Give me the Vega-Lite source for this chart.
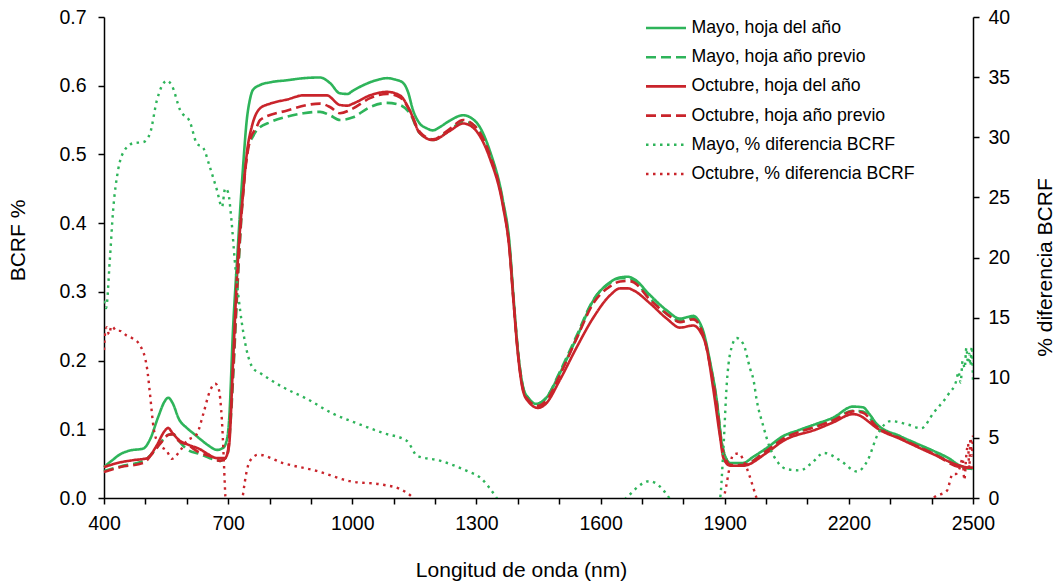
{
"$schema": "https://vega.github.io/schema/vega-lite/v6.json",
"width": 869, "height": 481,
"autosize": {"type": "none"},
"padding": {"left": 104, "top": 17, "right": 87, "bottom": 86},
"background": "white",
"config": {
 "view": {"stroke": null},
 "font": "Liberation Sans",
 "axis": {"grid": false, "domainColor": "#000", "domainWidth": 1.5, "tickColor": "#000", "tickWidth": 1.5, "tickSize": 6, "labelFont": "Liberation Sans", "labelFontSize": 19.5, "labelColor": "#000", "titleFont": "Liberation Sans", "titleFontSize": 21, "titleFontWeight": "normal", "titleColor": "#000", "labelOverlap": false, "labelFlush": false}
},
"datasets": {
"refl": [
{"s":"Mayo, hoja del año","x":400,"v":0.045},{"s":"Mayo, hoja del año","x":420,"v":0.055},{"s":"Mayo, hoja del año","x":440,"v":0.064},{"s":"Mayo, hoja del año","x":462,"v":0.069},{"s":"Mayo, hoja del año","x":495,"v":0.072},{"s":"Mayo, hoja del año","x":511,"v":0.085},{"s":"Mayo, hoja del año","x":531,"v":0.118},{"s":"Mayo, hoja del año","x":546,"v":0.140},{"s":"Mayo, hoja del año","x":555,"v":0.146},{"s":"Mayo, hoja del año","x":566,"v":0.138},{"s":"Mayo, hoja del año","x":581,"v":0.115},{"s":"Mayo, hoja del año","x":600,"v":0.102},{"s":"Mayo, hoja del año","x":616,"v":0.094},{"s":"Mayo, hoja del año","x":632,"v":0.086},{"s":"Mayo, hoja del año","x":651,"v":0.077},{"s":"Mayo, hoja del año","x":673,"v":0.070},{"s":"Mayo, hoja del año","x":688,"v":0.073},{"s":"Mayo, hoja del año","x":697,"v":0.085},{"s":"Mayo, hoja del año","x":702,"v":0.11},{"s":"Mayo, hoja del año","x":712,"v":0.248},{"s":"Mayo, hoja del año","x":722,"v":0.35},{"s":"Mayo, hoja del año","x":729,"v":0.419},{"s":"Mayo, hoja del año","x":737,"v":0.49},{"s":"Mayo, hoja del año","x":745,"v":0.55},{"s":"Mayo, hoja del año","x":752,"v":0.578},{"s":"Mayo, hoja del año","x":760,"v":0.594},{"s":"Mayo, hoja del año","x":777,"v":0.601},{"s":"Mayo, hoja del año","x":802,"v":0.605},{"s":"Mayo, hoja del año","x":843,"v":0.608},{"s":"Mayo, hoja del año","x":883,"v":0.611},{"s":"Mayo, hoja del año","x":922,"v":0.612},{"s":"Mayo, hoja del año","x":946,"v":0.604},{"s":"Mayo, hoja del año","x":970,"v":0.589},{"s":"Mayo, hoja del año","x":988,"v":0.588},{"s":"Mayo, hoja del año","x":1002,"v":0.593},{"s":"Mayo, hoja del año","x":1024,"v":0.600},{"s":"Mayo, hoja del año","x":1043,"v":0.605},{"s":"Mayo, hoja del año","x":1064,"v":0.609},{"s":"Mayo, hoja del año","x":1084,"v":0.611},{"s":"Mayo, hoja del año","x":1104,"v":0.609},{"s":"Mayo, hoja del año","x":1123,"v":0.604},{"s":"Mayo, hoja del año","x":1134,"v":0.592},{"s":"Mayo, hoja del año","x":1147,"v":0.564},{"s":"Mayo, hoja del año","x":1163,"v":0.545},{"s":"Mayo, hoja del año","x":1180,"v":0.538},{"s":"Mayo, hoja del año","x":1195,"v":0.535},{"s":"Mayo, hoja del año","x":1212,"v":0.54},{"s":"Mayo, hoja del año","x":1235,"v":0.549},{"s":"Mayo, hoja del año","x":1268,"v":0.557},{"s":"Mayo, hoja del año","x":1290,"v":0.552},{"s":"Mayo, hoja del año","x":1308,"v":0.54},{"s":"Mayo, hoja del año","x":1332,"v":0.506},{"s":"Mayo, hoja del año","x":1364,"v":0.433},{"s":"Mayo, hoja del año","x":1380,"v":0.37},{"s":"Mayo, hoja del año","x":1389,"v":0.297},{"s":"Mayo, hoja del año","x":1401,"v":0.21},{"s":"Mayo, hoja del año","x":1413,"v":0.161},{"s":"Mayo, hoja del año","x":1426,"v":0.145},{"s":"Mayo, hoja del año","x":1445,"v":0.137},{"s":"Mayo, hoja del año","x":1469,"v":0.146},{"s":"Mayo, hoja del año","x":1501,"v":0.181},{"s":"Mayo, hoja del año","x":1542,"v":0.233},{"s":"Mayo, hoja del año","x":1582,"v":0.287},{"s":"Mayo, hoja del año","x":1623,"v":0.314},{"s":"Mayo, hoja del año","x":1647,"v":0.321},{"s":"Mayo, hoja del año","x":1667,"v":0.322},{"s":"Mayo, hoja del año","x":1680,"v":0.319},{"s":"Mayo, hoja del año","x":1720,"v":0.295},{"s":"Mayo, hoja del año","x":1760,"v":0.273},{"s":"Mayo, hoja del año","x":1792,"v":0.261},{"s":"Mayo, hoja del año","x":1824,"v":0.265},{"s":"Mayo, hoja del año","x":1838,"v":0.257},{"s":"Mayo, hoja del año","x":1848,"v":0.243},{"s":"Mayo, hoja del año","x":1864,"v":0.2},{"s":"Mayo, hoja del año","x":1881,"v":0.141},{"s":"Mayo, hoja del año","x":1893,"v":0.079},{"s":"Mayo, hoja del año","x":1903,"v":0.058},{"s":"Mayo, hoja del año","x":1913,"v":0.051},{"s":"Mayo, hoja del año","x":1944,"v":0.051},{"s":"Mayo, hoja del año","x":1969,"v":0.06},{"s":"Mayo, hoja del año","x":2002,"v":0.073},{"s":"Mayo, hoja del año","x":2041,"v":0.09},{"s":"Mayo, hoja del año","x":2080,"v":0.099},{"s":"Mayo, hoja del año","x":2122,"v":0.108},{"s":"Mayo, hoja del año","x":2162,"v":0.117},{"s":"Mayo, hoja del año","x":2210,"v":0.133},{"s":"Mayo, hoja del año","x":2234,"v":0.132},{"s":"Mayo, hoja del año","x":2250,"v":0.122},{"s":"Mayo, hoja del año","x":2267,"v":0.108},{"s":"Mayo, hoja del año","x":2324,"v":0.09},{"s":"Mayo, hoja del año","x":2361,"v":0.08},{"s":"Mayo, hoja del año","x":2403,"v":0.069},{"s":"Mayo, hoja del año","x":2441,"v":0.058},{"s":"Mayo, hoja del año","x":2469,"v":0.047},{"s":"Mayo, hoja del año","x":2493,"v":0.043},{"s":"Mayo, hoja del año","x":2500,"v":0.043},
{"s":"Mayo, hoja año previo","x":400,"v":0.039},{"s":"Mayo, hoja año previo","x":440,"v":0.046},{"s":"Mayo, hoja año previo","x":495,"v":0.054},{"s":"Mayo, hoja año previo","x":521,"v":0.068},{"s":"Mayo, hoja año previo","x":536,"v":0.08},{"s":"Mayo, hoja año previo","x":556,"v":0.092},{"s":"Mayo, hoja año previo","x":567,"v":0.093},{"s":"Mayo, hoja año previo","x":581,"v":0.083},{"s":"Mayo, hoja año previo","x":600,"v":0.071},{"s":"Mayo, hoja año previo","x":631,"v":0.064},{"s":"Mayo, hoja año previo","x":656,"v":0.058},{"s":"Mayo, hoja año previo","x":681,"v":0.054},{"s":"Mayo, hoja año previo","x":697,"v":0.06},{"s":"Mayo, hoja año previo","x":707,"v":0.12},{"s":"Mayo, hoja año previo","x":712,"v":0.175},{"s":"Mayo, hoja año previo","x":722,"v":0.3},{"s":"Mayo, hoja año previo","x":736,"v":0.443},{"s":"Mayo, hoja año previo","x":748,"v":0.51},{"s":"Mayo, hoja año previo","x":759,"v":0.525},{"s":"Mayo, hoja año previo","x":769,"v":0.535},{"s":"Mayo, hoja año previo","x":802,"v":0.547},{"s":"Mayo, hoja año previo","x":843,"v":0.555},{"s":"Mayo, hoja año previo","x":882,"v":0.56},{"s":"Mayo, hoja año previo","x":922,"v":0.562},{"s":"Mayo, hoja año previo","x":946,"v":0.557},{"s":"Mayo, hoja año previo","x":970,"v":0.55},{"s":"Mayo, hoja año previo","x":1002,"v":0.554},{"s":"Mayo, hoja año previo","x":1043,"v":0.569},{"s":"Mayo, hoja año previo","x":1084,"v":0.575},{"s":"Mayo, hoja año previo","x":1115,"v":0.572},{"s":"Mayo, hoja año previo","x":1139,"v":0.56},{"s":"Mayo, hoja año previo","x":1163,"v":0.531},{"s":"Mayo, hoja año previo","x":1195,"v":0.521},{"s":"Mayo, hoja año previo","x":1235,"v":0.535},{"s":"Mayo, hoja año previo","x":1268,"v":0.548},{"s":"Mayo, hoja año previo","x":1295,"v":0.542},{"s":"Mayo, hoja año previo","x":1308,"v":0.533},{"s":"Mayo, hoja año previo","x":1332,"v":0.502},{"s":"Mayo, hoja año previo","x":1364,"v":0.43},{"s":"Mayo, hoja año previo","x":1380,"v":0.365},{"s":"Mayo, hoja año previo","x":1389,"v":0.295},{"s":"Mayo, hoja año previo","x":1401,"v":0.21},{"s":"Mayo, hoja año previo","x":1413,"v":0.16},{"s":"Mayo, hoja año previo","x":1426,"v":0.145},{"s":"Mayo, hoja año previo","x":1445,"v":0.137},{"s":"Mayo, hoja año previo","x":1469,"v":0.146},{"s":"Mayo, hoja año previo","x":1501,"v":0.183},{"s":"Mayo, hoja año previo","x":1542,"v":0.236},{"s":"Mayo, hoja año previo","x":1582,"v":0.288},{"s":"Mayo, hoja año previo","x":1623,"v":0.313},{"s":"Mayo, hoja año previo","x":1647,"v":0.32},{"s":"Mayo, hoja año previo","x":1667,"v":0.32},{"s":"Mayo, hoja año previo","x":1680,"v":0.316},{"s":"Mayo, hoja año previo","x":1720,"v":0.29},{"s":"Mayo, hoja año previo","x":1760,"v":0.268},{"s":"Mayo, hoja año previo","x":1792,"v":0.258},{"s":"Mayo, hoja año previo","x":1824,"v":0.262},{"s":"Mayo, hoja año previo","x":1848,"v":0.24},{"s":"Mayo, hoja año previo","x":1864,"v":0.198},{"s":"Mayo, hoja año previo","x":1881,"v":0.14},{"s":"Mayo, hoja año previo","x":1893,"v":0.08},{"s":"Mayo, hoja año previo","x":1903,"v":0.058},{"s":"Mayo, hoja año previo","x":1913,"v":0.05},{"s":"Mayo, hoja año previo","x":1944,"v":0.048},{"s":"Mayo, hoja año previo","x":2002,"v":0.07},{"s":"Mayo, hoja año previo","x":2041,"v":0.087},{"s":"Mayo, hoja año previo","x":2122,"v":0.105},{"s":"Mayo, hoja año previo","x":2162,"v":0.114},{"s":"Mayo, hoja año previo","x":2210,"v":0.127},{"s":"Mayo, hoja año previo","x":2234,"v":0.126},{"s":"Mayo, hoja año previo","x":2267,"v":0.104},{"s":"Mayo, hoja año previo","x":2324,"v":0.088},{"s":"Mayo, hoja año previo","x":2403,"v":0.066},{"s":"Mayo, hoja año previo","x":2469,"v":0.046},{"s":"Mayo, hoja año previo","x":2500,"v":0.042},
{"s":"Octubre, hoja del año","x":400,"v":0.045},{"s":"Octubre, hoja del año","x":440,"v":0.052},{"s":"Octubre, hoja del año","x":470,"v":0.055},{"s":"Octubre, hoja del año","x":504,"v":0.058},{"s":"Octubre, hoja del año","x":526,"v":0.075},{"s":"Octubre, hoja del año","x":546,"v":0.097},{"s":"Octubre, hoja del año","x":555,"v":0.102},{"s":"Octubre, hoja del año","x":566,"v":0.094},{"s":"Octubre, hoja del año","x":584,"v":0.083},{"s":"Octubre, hoja del año","x":606,"v":0.077},{"s":"Octubre, hoja del año","x":632,"v":0.071},{"s":"Octubre, hoja del año","x":651,"v":0.064},{"s":"Octubre, hoja del año","x":673,"v":0.058},{"s":"Octubre, hoja del año","x":692,"v":0.058},{"s":"Octubre, hoja del año","x":702,"v":0.075},{"s":"Octubre, hoja del año","x":712,"v":0.2},{"s":"Octubre, hoja del año","x":722,"v":0.33},{"s":"Octubre, hoja del año","x":736,"v":0.443},{"s":"Octubre, hoja del año","x":747,"v":0.51},{"s":"Octubre, hoja del año","x":757,"v":0.54},{"s":"Octubre, hoja del año","x":777,"v":0.567},{"s":"Octubre, hoja del año","x":802,"v":0.574},{"s":"Octubre, hoja del año","x":843,"v":0.58},{"s":"Octubre, hoja del año","x":882,"v":0.586},{"s":"Octubre, hoja del año","x":938,"v":0.586},{"s":"Octubre, hoja del año","x":970,"v":0.572},{"s":"Octubre, hoja del año","x":988,"v":0.571},{"s":"Octubre, hoja del año","x":1002,"v":0.574},{"s":"Octubre, hoja del año","x":1043,"v":0.586},{"s":"Octubre, hoja del año","x":1084,"v":0.591},{"s":"Octubre, hoja del año","x":1115,"v":0.586},{"s":"Octubre, hoja del año","x":1139,"v":0.564},{"s":"Octubre, hoja del año","x":1163,"v":0.531},{"s":"Octubre, hoja del año","x":1195,"v":0.521},{"s":"Octubre, hoja del año","x":1235,"v":0.534},{"s":"Octubre, hoja del año","x":1268,"v":0.545},{"s":"Octubre, hoja del año","x":1290,"v":0.54},{"s":"Octubre, hoja del año","x":1308,"v":0.527},{"s":"Octubre, hoja del año","x":1332,"v":0.495},{"s":"Octubre, hoja del año","x":1364,"v":0.425},{"s":"Octubre, hoja del año","x":1380,"v":0.36},{"s":"Octubre, hoja del año","x":1389,"v":0.29},{"s":"Octubre, hoja del año","x":1401,"v":0.205},{"s":"Octubre, hoja del año","x":1413,"v":0.155},{"s":"Octubre, hoja del año","x":1426,"v":0.14},{"s":"Octubre, hoja del año","x":1449,"v":0.131},{"s":"Octubre, hoja del año","x":1469,"v":0.138},{"s":"Octubre, hoja del año","x":1501,"v":0.171},{"s":"Octubre, hoja del año","x":1542,"v":0.219},{"s":"Octubre, hoja del año","x":1582,"v":0.262},{"s":"Octubre, hoja del año","x":1623,"v":0.295},{"s":"Octubre, hoja del año","x":1647,"v":0.305},{"s":"Octubre, hoja del año","x":1667,"v":0.305},{"s":"Octubre, hoja del año","x":1680,"v":0.302},{"s":"Octubre, hoja del año","x":1720,"v":0.283},{"s":"Octubre, hoja del año","x":1760,"v":0.261},{"s":"Octubre, hoja del año","x":1792,"v":0.248},{"s":"Octubre, hoja del año","x":1824,"v":0.251},{"s":"Octubre, hoja del año","x":1840,"v":0.243},{"s":"Octubre, hoja del año","x":1856,"v":0.219},{"s":"Octubre, hoja del año","x":1873,"v":0.156},{"s":"Octubre, hoja del año","x":1889,"v":0.088},{"s":"Octubre, hoja del año","x":1897,"v":0.058},{"s":"Octubre, hoja del año","x":1913,"v":0.047},{"s":"Octubre, hoja del año","x":1944,"v":0.047},{"s":"Octubre, hoja del año","x":2002,"v":0.066},{"s":"Octubre, hoja del año","x":2041,"v":0.083},{"s":"Octubre, hoja del año","x":2122,"v":0.1},{"s":"Octubre, hoja del año","x":2162,"v":0.11},{"s":"Octubre, hoja del año","x":2210,"v":0.122},{"s":"Octubre, hoja del año","x":2226,"v":0.12},{"s":"Octubre, hoja del año","x":2250,"v":0.11},{"s":"Octubre, hoja del año","x":2267,"v":0.102},{"s":"Octubre, hoja del año","x":2324,"v":0.086},{"s":"Octubre, hoja del año","x":2403,"v":0.064},{"s":"Octubre, hoja del año","x":2469,"v":0.047},{"s":"Octubre, hoja del año","x":2493,"v":0.044},{"s":"Octubre, hoja del año","x":2500,"v":0.044},
{"s":"Octubre, hoja año previo","x":400,"v":0.038},{"s":"Octubre, hoja año previo","x":440,"v":0.045},{"s":"Octubre, hoja año previo","x":495,"v":0.051},{"s":"Octubre, hoja año previo","x":521,"v":0.068},{"s":"Octubre, hoja año previo","x":536,"v":0.079},{"s":"Octubre, hoja año previo","x":556,"v":0.092},{"s":"Octubre, hoja año previo","x":567,"v":0.093},{"s":"Octubre, hoja año previo","x":581,"v":0.083},{"s":"Octubre, hoja año previo","x":600,"v":0.078},{"s":"Octubre, hoja año previo","x":631,"v":0.066},{"s":"Octubre, hoja año previo","x":656,"v":0.061},{"s":"Octubre, hoja año previo","x":681,"v":0.054},{"s":"Octubre, hoja año previo","x":697,"v":0.06},{"s":"Octubre, hoja año previo","x":707,"v":0.13},{"s":"Octubre, hoja año previo","x":712,"v":0.185},{"s":"Octubre, hoja año previo","x":722,"v":0.31},{"s":"Octubre, hoja año previo","x":736,"v":0.443},{"s":"Octubre, hoja año previo","x":753,"v":0.521},{"s":"Octubre, hoja año previo","x":769,"v":0.54},{"s":"Octubre, hoja año previo","x":777,"v":0.55},{"s":"Octubre, hoja año previo","x":843,"v":0.564},{"s":"Octubre, hoja año previo","x":922,"v":0.574},{"s":"Octubre, hoja año previo","x":946,"v":0.569},{"s":"Octubre, hoja año previo","x":970,"v":0.56},{"s":"Octubre, hoja año previo","x":1002,"v":0.567},{"s":"Octubre, hoja año previo","x":1043,"v":0.582},{"s":"Octubre, hoja año previo","x":1084,"v":0.588},{"s":"Octubre, hoja año previo","x":1115,"v":0.583},{"s":"Octubre, hoja año previo","x":1139,"v":0.564},{"s":"Octubre, hoja año previo","x":1163,"v":0.533},{"s":"Octubre, hoja año previo","x":1195,"v":0.522},{"s":"Octubre, hoja año previo","x":1235,"v":0.537},{"s":"Octubre, hoja año previo","x":1268,"v":0.55},{"s":"Octubre, hoja año previo","x":1295,"v":0.542},{"s":"Octubre, hoja año previo","x":1308,"v":0.532},{"s":"Octubre, hoja año previo","x":1332,"v":0.5},{"s":"Octubre, hoja año previo","x":1364,"v":0.428},{"s":"Octubre, hoja año previo","x":1380,"v":0.362},{"s":"Octubre, hoja año previo","x":1389,"v":0.292},{"s":"Octubre, hoja año previo","x":1401,"v":0.207},{"s":"Octubre, hoja año previo","x":1413,"v":0.157},{"s":"Octubre, hoja año previo","x":1426,"v":0.142},{"s":"Octubre, hoja año previo","x":1449,"v":0.134},{"s":"Octubre, hoja año previo","x":1469,"v":0.142},{"s":"Octubre, hoja año previo","x":1501,"v":0.178},{"s":"Octubre, hoja año previo","x":1542,"v":0.232},{"s":"Octubre, hoja año previo","x":1582,"v":0.283},{"s":"Octubre, hoja año previo","x":1623,"v":0.308},{"s":"Octubre, hoja año previo","x":1647,"v":0.315},{"s":"Octubre, hoja año previo","x":1667,"v":0.316},{"s":"Octubre, hoja año previo","x":1680,"v":0.314},{"s":"Octubre, hoja año previo","x":1720,"v":0.288},{"s":"Octubre, hoja año previo","x":1760,"v":0.268},{"s":"Octubre, hoja año previo","x":1792,"v":0.256},{"s":"Octubre, hoja año previo","x":1824,"v":0.26},{"s":"Octubre, hoja año previo","x":1848,"v":0.238},{"s":"Octubre, hoja año previo","x":1864,"v":0.195},{"s":"Octubre, hoja año previo","x":1881,"v":0.135},{"s":"Octubre, hoja año previo","x":1893,"v":0.075},{"s":"Octubre, hoja año previo","x":1903,"v":0.056},{"s":"Octubre, hoja año previo","x":1913,"v":0.048},{"s":"Octubre, hoja año previo","x":1944,"v":0.048},{"s":"Octubre, hoja año previo","x":2002,"v":0.069},{"s":"Octubre, hoja año previo","x":2041,"v":0.086},{"s":"Octubre, hoja año previo","x":2122,"v":0.104},{"s":"Octubre, hoja año previo","x":2162,"v":0.113},{"s":"Octubre, hoja año previo","x":2210,"v":0.126},{"s":"Octubre, hoja año previo","x":2234,"v":0.124},{"s":"Octubre, hoja año previo","x":2267,"v":0.104},{"s":"Octubre, hoja año previo","x":2324,"v":0.087},{"s":"Octubre, hoja año previo","x":2403,"v":0.065},{"s":"Octubre, hoja año previo","x":2469,"v":0.045},{"s":"Octubre, hoja año previo","x":2500,"v":0.044}
],
"diff": [
{"s":"Mayo, % diferencia BCRF","x":400,"v":16.4},{"s":"Mayo, % diferencia BCRF","x":405,"v":15.8},{"s":"Mayo, % diferencia BCRF","x":414,"v":19.75},{"s":"Mayo, % diferencia BCRF","x":422,"v":23.9},{"s":"Mayo, % diferencia BCRF","x":434,"v":27.25},{"s":"Mayo, % diferencia BCRF","x":446,"v":28.7},{"s":"Mayo, % diferencia BCRF","x":470,"v":29.5},{"s":"Mayo, % diferencia BCRF","x":495,"v":29.6},{"s":"Mayo, % diferencia BCRF","x":511,"v":30.3},{"s":"Mayo, % diferencia BCRF","x":528,"v":33.1},{"s":"Mayo, % diferencia BCRF","x":552,"v":34.7},{"s":"Mayo, % diferencia BCRF","x":564,"v":34.3},{"s":"Mayo, % diferencia BCRF","x":584,"v":32.25},{"s":"Mayo, % diferencia BCRF","x":608,"v":31.25},{"s":"Mayo, % diferencia BCRF","x":624,"v":29.5},{"s":"Mayo, % diferencia BCRF","x":640,"v":29.1},{"s":"Mayo, % diferencia BCRF","x":656,"v":27.5},{"s":"Mayo, % diferencia BCRF","x":673,"v":25.6},{"s":"Mayo, % diferencia BCRF","x":685,"v":24.2},{"s":"Mayo, % diferencia BCRF","x":693,"v":25.75},{"s":"Mayo, % diferencia BCRF","x":700,"v":25.4},{"s":"Mayo, % diferencia BCRF","x":708,"v":23.1},{"s":"Mayo, % diferencia BCRF","x":716,"v":19.75},{"s":"Mayo, % diferencia BCRF","x":729,"v":15.6},{"s":"Mayo, % diferencia BCRF","x":745,"v":12.25},{"s":"Mayo, % diferencia BCRF","x":760,"v":10.8},{"s":"Mayo, % diferencia BCRF","x":777,"v":10.4},{"s":"Mayo, % diferencia BCRF","x":833,"v":9.2},{"s":"Mayo, % diferencia BCRF","x":890,"v":8.25},{"s":"Mayo, % diferencia BCRF","x":954,"v":7.0},{"s":"Mayo, % diferencia BCRF","x":1012,"v":6.2},{"s":"Mayo, % diferencia BCRF","x":1075,"v":5.4},{"s":"Mayo, % diferencia BCRF","x":1132,"v":4.75},{"s":"Mayo, % diferencia BCRF","x":1157,"v":3.5},{"s":"Mayo, % diferencia BCRF","x":1212,"v":3.1},{"s":"Mayo, % diferencia BCRF","x":1277,"v":2.25},{"s":"Mayo, % diferencia BCRF","x":1309,"v":1.7},{"s":"Mayo, % diferencia BCRF","x":1349,"v":0},{"s":"Mayo, % diferencia BCRF","x":1400,"v":-3},{"s":"Mayo, % diferencia BCRF","x":1500,"v":-5},{"s":"Mayo, % diferencia BCRF","x":1600,"v":-2.5},{"s":"Mayo, % diferencia BCRF","x":1662,"v":0},{"s":"Mayo, % diferencia BCRF","x":1718,"v":1.4},{"s":"Mayo, % diferencia BCRF","x":1766,"v":0},{"s":"Mayo, % diferencia BCRF","x":1810,"v":-3},{"s":"Mayo, % diferencia BCRF","x":1870,"v":-2},{"s":"Mayo, % diferencia BCRF","x":1889,"v":0},{"s":"Mayo, % diferencia BCRF","x":1897,"v":4.2},{"s":"Mayo, % diferencia BCRF","x":1905,"v":9.5},{"s":"Mayo, % diferencia BCRF","x":1913,"v":12},{"s":"Mayo, % diferencia BCRF","x":1929,"v":13.3},{"s":"Mayo, % diferencia BCRF","x":1945,"v":12.8},{"s":"Mayo, % diferencia BCRF","x":1961,"v":10.8},{"s":"Mayo, % diferencia BCRF","x":1970,"v":9.75},{"s":"Mayo, % diferencia BCRF","x":1977,"v":8.2},{"s":"Mayo, % diferencia BCRF","x":1993,"v":6.0},{"s":"Mayo, % diferencia BCRF","x":2009,"v":4.2},{"s":"Mayo, % diferencia BCRF","x":2030,"v":2.9},{"s":"Mayo, % diferencia BCRF","x":2050,"v":2.4},{"s":"Mayo, % diferencia BCRF","x":2082,"v":2.3},{"s":"Mayo, % diferencia BCRF","x":2110,"v":2.9},{"s":"Mayo, % diferencia BCRF","x":2140,"v":3.75},{"s":"Mayo, % diferencia BCRF","x":2180,"v":3.1},{"s":"Mayo, % diferencia BCRF","x":2220,"v":2.2},{"s":"Mayo, % diferencia BCRF","x":2245,"v":3.1},{"s":"Mayo, % diferencia BCRF","x":2270,"v":5.3},{"s":"Mayo, % diferencia BCRF","x":2302,"v":6.4},{"s":"Mayo, % diferencia BCRF","x":2343,"v":6.1},{"s":"Mayo, % diferencia BCRF","x":2375,"v":5.8},{"s":"Mayo, % diferencia BCRF","x":2405,"v":7.1},{"s":"Mayo, % diferencia BCRF","x":2440,"v":8.6},{"s":"Mayo, % diferencia BCRF","x":2460,"v":9.8},{"s":"Mayo, % diferencia BCRF","x":2465,"v":10.5},{"s":"Mayo, % diferencia BCRF","x":2470,"v":9.6},{"s":"Mayo, % diferencia BCRF","x":2475,"v":11.4},{"s":"Mayo, % diferencia BCRF","x":2480,"v":10.8},{"s":"Mayo, % diferencia BCRF","x":2484,"v":12.5},{"s":"Mayo, % diferencia BCRF","x":2488,"v":11.2},{"s":"Mayo, % diferencia BCRF","x":2491,"v":12.0},{"s":"Mayo, % diferencia BCRF","x":2494,"v":11.0},{"s":"Mayo, % diferencia BCRF","x":2497,"v":12.6},{"s":"Mayo, % diferencia BCRF","x":2500,"v":9.8},
{"s":"Octubre, % diferencia BCRF","x":400,"v":12.3},{"s":"Octubre, % diferencia BCRF","x":403,"v":13.8},{"s":"Octubre, % diferencia BCRF","x":407,"v":14.2},{"s":"Octubre, % diferencia BCRF","x":412,"v":13.6},{"s":"Octubre, % diferencia BCRF","x":418,"v":14.3},{"s":"Octubre, % diferencia BCRF","x":422,"v":14.2},{"s":"Octubre, % diferencia BCRF","x":430,"v":13.9},{"s":"Octubre, % diferencia BCRF","x":438,"v":13.9},{"s":"Octubre, % diferencia BCRF","x":455,"v":13.5},{"s":"Octubre, % diferencia BCRF","x":470,"v":13.25},{"s":"Octubre, % diferencia BCRF","x":487,"v":12.7},{"s":"Octubre, % diferencia BCRF","x":504,"v":10.8},{"s":"Octubre, % diferencia BCRF","x":511,"v":8.7},{"s":"Octubre, % diferencia BCRF","x":520,"v":5.8},{"s":"Octubre, % diferencia BCRF","x":532,"v":4.5},{"s":"Octubre, % diferencia BCRF","x":552,"v":3.9},{"s":"Octubre, % diferencia BCRF","x":564,"v":3.25},{"s":"Octubre, % diferencia BCRF","x":579,"v":3.7},{"s":"Octubre, % diferencia BCRF","x":600,"v":4.75},{"s":"Octubre, % diferencia BCRF","x":624,"v":5.3},{"s":"Octubre, % diferencia BCRF","x":640,"v":7.0},{"s":"Octubre, % diferencia BCRF","x":656,"v":8.9},{"s":"Octubre, % diferencia BCRF","x":669,"v":9.5},{"s":"Octubre, % diferencia BCRF","x":677,"v":9.1},{"s":"Octubre, % diferencia BCRF","x":685,"v":6.4},{"s":"Octubre, % diferencia BCRF","x":693,"v":0.3},{"s":"Octubre, % diferencia BCRF","x":700,"v":-5},{"s":"Octubre, % diferencia BCRF","x":717,"v":-6},{"s":"Octubre, % diferencia BCRF","x":736,"v":0.3},{"s":"Octubre, % diferencia BCRF","x":745,"v":2.25},{"s":"Octubre, % diferencia BCRF","x":753,"v":3.1},{"s":"Octubre, % diferencia BCRF","x":773,"v":3.6},{"s":"Octubre, % diferencia BCRF","x":833,"v":2.9},{"s":"Octubre, % diferencia BCRF","x":914,"v":2.25},{"s":"Octubre, % diferencia BCRF","x":994,"v":1.4},{"s":"Octubre, % diferencia BCRF","x":1075,"v":1.1},{"s":"Octubre, % diferencia BCRF","x":1115,"v":0.75},{"s":"Octubre, % diferencia BCRF","x":1147,"v":0},{"s":"Octubre, % diferencia BCRF","x":1200,"v":-3},{"s":"Octubre, % diferencia BCRF","x":1400,"v":-6},{"s":"Octubre, % diferencia BCRF","x":1600,"v":-6},{"s":"Octubre, % diferencia BCRF","x":1800,"v":-4},{"s":"Octubre, % diferencia BCRF","x":1880,"v":-1},{"s":"Octubre, % diferencia BCRF","x":1897,"v":0},{"s":"Octubre, % diferencia BCRF","x":1921,"v":3.6},{"s":"Octubre, % diferencia BCRF","x":1933,"v":3.7},{"s":"Octubre, % diferencia BCRF","x":1953,"v":2.5},{"s":"Octubre, % diferencia BCRF","x":1977,"v":0},{"s":"Octubre, % diferencia BCRF","x":2010,"v":-3},{"s":"Octubre, % diferencia BCRF","x":2200,"v":-4},{"s":"Octubre, % diferencia BCRF","x":2390,"v":-1},{"s":"Octubre, % diferencia BCRF","x":2405,"v":0},{"s":"Octubre, % diferencia BCRF","x":2437,"v":0.6},{"s":"Octubre, % diferencia BCRF","x":2451,"v":2.0},{"s":"Octubre, % diferencia BCRF","x":2459,"v":2.0},{"s":"Octubre, % diferencia BCRF","x":2468,"v":2.5},{"s":"Octubre, % diferencia BCRF","x":2475,"v":3.3},{"s":"Octubre, % diferencia BCRF","x":2479,"v":1.5},{"s":"Octubre, % diferencia BCRF","x":2484,"v":3.6},{"s":"Octubre, % diferencia BCRF","x":2488,"v":4.5},{"s":"Octubre, % diferencia BCRF","x":2491,"v":2.5},{"s":"Octubre, % diferencia BCRF","x":2494,"v":5.0},{"s":"Octubre, % diferencia BCRF","x":2497,"v":3.5},{"s":"Octubre, % diferencia BCRF","x":2500,"v":5.2}
]
},
"layer": [
 {
  "data": {"name": "refl"},
  "mark": {"type": "line", "strokeWidth": 2.6, "interpolate": "monotone", "strokeJoin": "round"},
  "encoding": {
   "x": {"field": "x", "type": "quantitative", "scale": {"domain": [400, 2500], "nice": false, "zero": false},
     "axis": {"values": [400,500,600,700,800,900,1000,1100,1200,1300,1400,1500,1600,1700,1800,1900,2000,2100,2200,2300,2400,2500], "labelExpr": "(datum.value - 400) % 300 == 0 ? format(datum.value, 'd') : ''", "title": "Longitud de onda (nm)", "labelPadding": 10, "titleX": 417, "titleY": 72, "titleBaseline": "middle", "titleAlign": "center"}},
   "y": {"field": "v", "type": "quantitative", "scale": {"domain": [0, 0.7], "nice": false},
     "axis": {"values": [0,0.1,0.2,0.3,0.4,0.5,0.6,0.7], "format": ".1f", "title": "BCRF %", "labelPadding": 12, "titleX": -86, "titleY": 223, "titleAngle": 270, "titleBaseline": "middle", "titleAlign": "center"}},
   "color": {"field": "s", "type": "nominal",
     "scale": {"domain": ["Mayo, hoja del año","Mayo, hoja año previo","Octubre, hoja del año","Octubre, hoja año previo","Mayo, % diferencia BCRF","Octubre, % diferencia BCRF"], "range": ["#2eb45a","#2eb45a","#c9242b","#c9242b","#2eb45a","#c9242b"]},
     "legend": {"orient": "none", "legendX": 550.5, "legendY": -0.5, "title": null, "symbolType": "M-2,0L2,0", "symbolSize": 400, "symbolStrokeWidth": 2.6, "labelFontSize": 17.7, "labelFont": "Liberation Sans", "labelColor": "#000", "labelOffset": 14, "labelLimit": 0, "rowPadding": 8.2, "padding": 0}},
   "strokeDash": {"field": "s", "type": "nominal",
     "scale": {"domain": ["Mayo, hoja del año","Mayo, hoja año previo","Octubre, hoja del año","Octubre, hoja año previo","Mayo, % diferencia BCRF","Octubre, % diferencia BCRF"], "range": [[1,0],[10,5],[1,0],[10,5],[2.5,4.5],[2.5,4.5]]},
     "legend": {"orient": "none", "legendX": 550.5, "legendY": -0.5, "title": null, "symbolType": "M-2,0L2,0", "symbolSize": 400, "symbolStrokeWidth": 2.6, "labelFontSize": 17.7, "labelFont": "Liberation Sans", "labelColor": "#000", "labelOffset": 14, "labelLimit": 0, "rowPadding": 8.2, "padding": 0}}
  }
 },
 {
  "data": {"name": "diff"},
  "mark": {"type": "line", "strokeWidth": 2.4, "interpolate": "monotone", "clip": true},
  "encoding": {
   "x": {"field": "x", "type": "quantitative", "scale": {"domain": [400, 2500], "nice": false, "zero": false},
     "axis": {"values": [400,500,600,700,800,900,1000,1100,1200,1300,1400,1500,1600,1700,1800,1900,2000,2100,2200,2300,2400,2500], "labelExpr": "(datum.value - 400) % 300 == 0 ? format(datum.value, 'd') : ''", "title": "Longitud de onda (nm)", "labelPadding": 10, "titleX": 417, "titleY": 72, "titleBaseline": "middle", "titleAlign": "center"}},
   "y": {"field": "v", "type": "quantitative", "scale": {"domain": [0, 40], "nice": false},
     "axis": {"orient": "right", "values": [0,5,10,15,20,25,30,35,40], "format": "d", "title": "% diferencia BCRF", "labelPadding": 9, "titleX": 72, "titleY": 250, "titleAngle": 270, "titleBaseline": "middle", "titleAlign": "center"}},
   "color": {"field": "s", "type": "nominal",
     "scale": {"domain": ["Mayo, hoja del año","Mayo, hoja año previo","Octubre, hoja del año","Octubre, hoja año previo","Mayo, % diferencia BCRF","Octubre, % diferencia BCRF"], "range": ["#2eb45a","#2eb45a","#c9242b","#c9242b","#2eb45a","#c9242b"]}, "legend": null},
   "strokeDash": {"field": "s", "type": "nominal",
     "scale": {"domain": ["Mayo, hoja del año","Mayo, hoja año previo","Octubre, hoja del año","Octubre, hoja año previo","Mayo, % diferencia BCRF","Octubre, % diferencia BCRF"], "range": [[1,0],[10,5],[1,0],[10,5],[2.5,4.5],[2.5,4.5]]}, "legend": null}
  }
 }
],
"resolve": {"scale": {"y": "independent"}}
}
